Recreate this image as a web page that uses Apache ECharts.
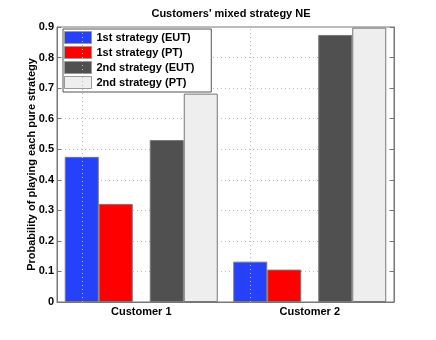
<!DOCTYPE html>
<html lang="en">
<head>
    <meta charset="UTF-8">
    <title>Customers' mixed strategy NE</title>
    <script src="https://cdn.jsdelivr.net/npm/echarts@6/dist/echarts.min.js"></script>
    <style>
        body{ margin: 0; background: #fff; }
        #chart{ width: 436px; height: 340px; }
    </style>
</head>
<body>
<div id="chart"></div>
<script>
    // data
    var customers = ['Customer 1', 'Customer 2'];
    var firstEUT = [0.475, 0.132];
    var firstPT = [0.321, 0.106];
    var secondEUT = [0.53, 0.874];
    var secondPT = [0.682, 0.898];
    var yTicks = [0, 0.1, 0.2, 0.3, 0.4, 0.5, 0.6, 0.7, 0.8, 0.9];

    var font = '"Liberation Sans", Arial, sans-serif';
    var edge = '#777';

    function bar(name, data, color, w){
        return {
            name: name,
            type: 'bar',
            data: data,
            barWidth: w || 34,
            barGap: '0%',
            itemStyle: { color: color, borderColor: edge, borderWidth: 1 }
        };
    }

    var chart = echarts.init(document.getElementById('chart'));
    var gap = bar('gap', ['-', '-'], 'transparent', 17);
    gap.itemStyle.borderWidth = 0;
    var s1 = bar('1st strategy (EUT)', firstEUT, '#2541fb');
    // dotted vertical grid at category centres
    s1.markLine = {
        silent: true,
        symbol: 'none',
        label: { show: false },
        lineStyle: { color: '#bbb', type: [1, 3], width: 1 },
        data: customers.map(function(c){ return { xAxis: c }; })
    };

    chart.setOption({
        animation: false,
        textStyle: { fontFamily: font },
        title: {
            text: "Customers' mixed strategy NE",
            left: 226, top: 3, textAlign: 'center',
            textStyle: { fontSize: 11, fontWeight: 'bold', color: '#000', fontFamily: font }
        },
        legend: {
            data: ['1st strategy (EUT)', '1st strategy (PT)', '2nd strategy (EUT)', '2nd strategy (PT)'],
            orient: 'vertical',
            icon: 'rect',
            left: 63, top: 29,
            itemWidth: 27, itemHeight: 12, itemGap: 2,
            padding: [2, 17, 3, 1],
            backgroundColor: '#fff',
            borderColor: '#555', borderWidth: 1, borderRadius: 0,
            itemStyle: { borderColor: '#999', borderWidth: 1 },
            textStyle: { fontSize: 11, fontWeight: 'bold', color: '#000', fontFamily: font }
        },
        grid: { left: 57, right: 42, top: 27, bottom: 38, show: true, borderColor: edge, borderWidth: 1 },
        xAxis: {
            type: 'category',
            data: customers,
            axisLine: { lineStyle: { color: edge } },
            axisTick: { alignWithLabel: true, inside: true, length: 4, lineStyle: { color: edge } },
            axisLabel: { fontSize: 11, fontWeight: 'bold', color: '#000', margin: 4 }
        },
        yAxis: [{
            type: 'value',
            min: yTicks[0], max: yTicks[yTicks.length - 1], interval: 0.1,
            name: 'Probability of playing each pure strategy',
            nameLocation: 'middle', nameGap: 20, nameMoveOverlap: false,
            nameTextStyle: { fontSize: 11, fontWeight: 'bold', color: '#000' },
            axisLine: { show: true, lineStyle: { color: edge } },
            axisTick: { show: true, inside: true, length: 4, lineStyle: { color: edge } },
            axisLabel: { fontSize: 11, fontWeight: 'bold', color: '#000', margin: 3 },
            splitLine: { lineStyle: { color: '#bbb', type: [1, 3] } }
        }, {
            type: 'value',
            position: 'right',
            min: yTicks[0], max: yTicks[yTicks.length - 1], interval: 0.1,
            axisLine: { show: true, lineStyle: { color: edge } },
            axisTick: { show: true, inside: true, length: 4, lineStyle: { color: edge } },
            axisLabel: { show: false },
            splitLine: { show: false }
        }],
        series: [
            s1,
            bar('1st strategy (PT)', firstPT, '#ff0000'),
            gap,
            bar('2nd strategy (EUT)', secondEUT, '#505050'),
            bar('2nd strategy (PT)', secondPT, '#eeeeee')
        ]
    });
</script>
</body>
</html>
